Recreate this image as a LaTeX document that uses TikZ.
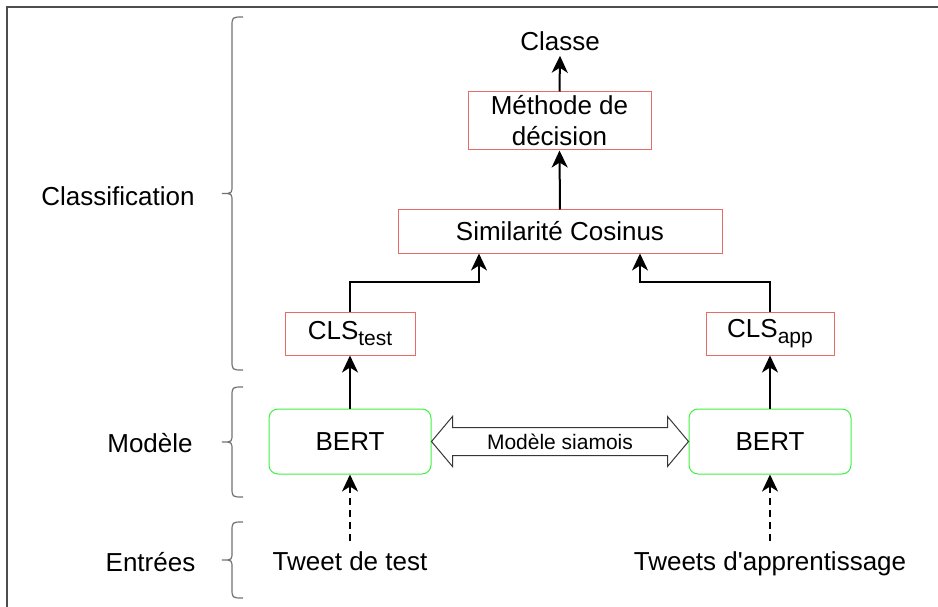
\documentclass[tikz,border=0pt]{standalone}
\usepackage{fontspec}
\setmainfont{Liberation Sans}
\usetikzlibrary{arrows.meta,calc}
\definecolor{boxred}{HTML}{EA6B66}
\definecolor{boxgreen}{HTML}{40F040}
\definecolor{framegray}{HTML}{4D4D4D}
\newcommand{\bas}[1]{\raisebox{-6pt}{\fontsize{21}{21}\selectfont #1}}

\begin{document}
\begin{tikzpicture}[x=1pt,y=-1pt,
    every node/.style={font=\fontsize{26}{31}\selectfont},
    rouge/.style={draw=boxred, line width=1pt, inner sep=0pt, align=center},
    vert/.style={draw=boxgreen, line width=1pt, rounded corners=9pt,
      minimum width=162pt, minimum height=65pt},
    fleche/.style={line width=2pt, -{Stealth[length=17pt,width=16pt,inset=5pt]}},
    accolade/.style={draw=framegray!80, line width=1.2pt}]
        \useasboundingbox (0,0) rectangle (938,607);
        \draw[framegray, line width=1.5pt] (938,7) -- (7,7) -- (7,607);

        % niveaux
        \node (classif) at (118,196) {Classification};
        \node (modele) at (150,443) {Modèle};
        \node (entrees) at (150.5,562) {Entrées};
        \foreach \haut/\bas in {17/370, 387/497, 522/598}
        \draw[accolade] (243,\haut) .. controls (232,\haut) .. (232,\haut+10)
          -- (232,{(\haut+\bas)/2-8}) .. controls (232,{(\haut+\bas)/2}) .. (222,{(\haut+\bas)/2})
          .. controls (232,{(\haut+\bas)/2}) .. (232,{(\haut+\bas)/2+8})
          -- (232,\bas-10) .. controls (232,\bas) .. (243,\bas);

        % boites
        \node[inner sep=5pt] (classe) at (560,41) {Classe};
        \node[rouge, minimum width=183pt, minimum height=58pt] (methode) at (559.5,121) {Méthode de\\décision};
        \node[rouge, minimum width=324pt, minimum height=43pt] (sim) at (560,231.5) {Similarité Cosinus};
        \node[rouge, minimum width=130pt, minimum height=43pt] (clsT) at (350,333.5) {CLS\bas{test}};
        \node[rouge, minimum width=128pt, minimum height=43pt] (clsA) at (770,333.5) {CLS\bas{app}};
        \node[vert] (bertT) at (350,441.5) {BERT};
        \node[vert] (bertA) at (770,441.5) {BERT};
        \node[inner sep=10pt, anchor=base] (tweetT) at (350,570) {Tweet de test};
        \node[inner sep=10pt, anchor=base] (tweetA) at (770,570) {Tweets d\textquotesingle apprentissage};

        \draw[fleche] (methode.north) -- (classe.south);
        \draw[fleche] (sim.north) -- (methode.south);
        \draw[fleche] (clsT.north) -- ++(0,-30) -| ([xshift=-81pt]sim.south);
        \draw[fleche] (clsA.north) -- ++(0,-30) -| ([xshift=80pt]sim.south);
        \draw[fleche] (bertT.north) -- (clsT.south);
        \draw[fleche] (bertA.north) -- (clsA.south);
        \draw[fleche, dash pattern=on 7pt off 5pt] (tweetT.north) -- (bertT.south);
        \draw[fleche, dash pattern=on 7pt off 5pt] (tweetA.north |- tweetT.north) -- (bertA.south);

        % modele siamois
        \draw[framegray!70!black, line width=1pt] (bertT.east) -- ++(21,-25) -- ++(0,11)
          -- ($(bertA.west)+(-21,-14)$) -- ++(0,-11) -- (bertA.west) -- ++(-21,25) -- ++(0,-11)
          -- ($(bertT.east)+(21,14)$) -- ++(0,11) -- cycle;
        \node[font=\fontsize{21}{25}\selectfont] (siam) at ($(bertT.east)!0.5!(bertA.west)$) {Modèle siamois};
      \end{tikzpicture}
\end{document}
